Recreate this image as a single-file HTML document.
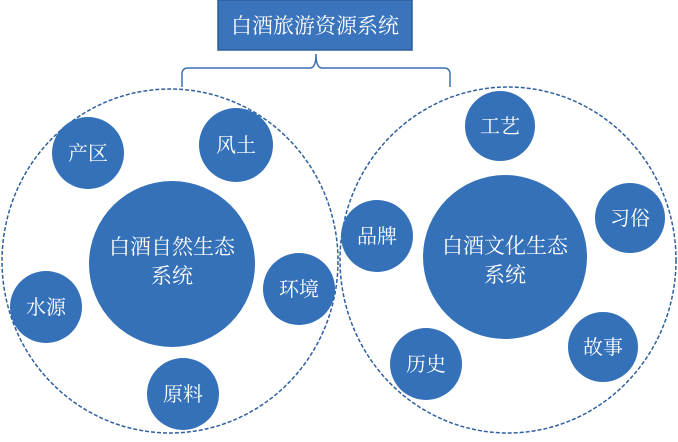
<!DOCTYPE html>
<html><head><meta charset="utf-8"><style>
html,body{margin:0;padding:0;background:#fff;}
svg text{font-family:"Liberation Serif","Noto Serif CJK SC",serif;fill:#fff;text-anchor:middle;}
</style></head><body>
<svg width="678" height="437" viewBox="0 0 678 437" xmlns="http://www.w3.org/2000/svg">
<rect x="218" y="0" width="194" height="50" fill="#3a74bc" stroke="#2a5d9a" stroke-width="1.5"/>
<text x="315" y="33" font-size="21">白酒旅游资源系统</text>
<path d="M182 87 V74 Q182 68 188 68 H310 Q316 68 316 54 Q316 68 322 68 H444 Q450 68 450 74 V87" fill="none" stroke="#3a6fb0" stroke-width="1.5"/>
<ellipse cx="170" cy="261" rx="168" ry="172" fill="none" stroke="#2f5f9f" stroke-width="1.5" stroke-dasharray="4,2"/>
<ellipse cx="508" cy="260" rx="168" ry="173" fill="none" stroke="#2f5f9f" stroke-width="1.5" stroke-dasharray="4,2"/>
<g fill="#3571b9">
<circle cx="172" cy="264" r="83"/>
<circle cx="88" cy="153" r="36"/>
<circle cx="236" cy="145" r="37"/>
<circle cx="46" cy="307" r="36"/>
<circle cx="299" cy="289" r="36"/>
<circle cx="183" cy="394" r="36"/>
<circle cx="505" cy="257" r="82"/>
<circle cx="500" cy="126" r="35"/>
<circle cx="630" cy="218" r="35"/>
<circle cx="377" cy="236" r="36"/>
<circle cx="603" cy="347" r="35"/>
<circle cx="426" cy="364" r="36"/>
</g>
<text x="172" y="254" font-size="21">白酒自然生态</text>
<text x="172" y="283" font-size="21">系统</text>
<text x="88" y="160" font-size="20">产区</text>
<text x="236" y="152" font-size="20">风土</text>
<text x="46" y="314" font-size="20">水源</text>
<text x="299" y="296" font-size="20">环境</text>
<text x="183" y="401" font-size="20">原料</text>
<text x="505" y="253" font-size="21">白酒文化生态</text>
<text x="505" y="282" font-size="21">系统</text>
<text x="500" y="133" font-size="20">工艺</text>
<text x="630" y="225" font-size="20">习俗</text>
<text x="377" y="243" font-size="20">品牌</text>
<text x="603" y="354" font-size="20">故事</text>
<text x="426" y="371" font-size="20">历史</text>
</svg>
</body></html>
